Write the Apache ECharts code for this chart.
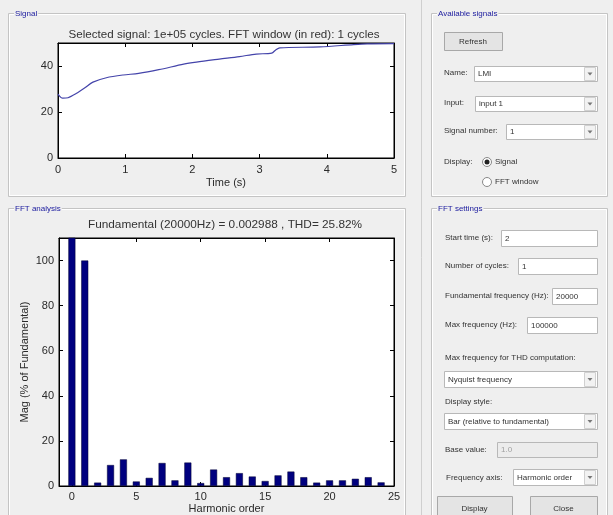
<!DOCTYPE html>
<html>
<head>
<meta charset="utf-8">
<script src="https://cdn.jsdelivr.net/npm/echarts@6/dist/echarts.min.js"></script>
<style>
html,body{margin:0;padding:0;background:#efefef;}
#chart{width:613px;height:515px;}
</style>
</head>
<body>
<div id="chart"></div>
<script>
// ---- data ----
var timeValues   = [0, 0.07, 0.15, 0.27, 0.4, 0.52, 0.72, 0.97, 1.2, 1.5, 1.87, 2.06, 2.4, 2.7, 2.95, 3.18, 3.24, 3.3, 3.9, 4.4, 4.6, 5.0];
var signalValues = [27.8, 26.0, 26.2, 28.0, 30.5, 33.0, 34.9, 36.1, 36.8, 38.4, 40.8, 41.7, 43.0, 44.1, 45.2, 45.6, 47.0, 47.9, 48.3, 49.3, 49.6, 49.7];
var harmonicOrders = [0,1,2,3,4,5,6,7,8,9,10,11,12,13,14,15,16,17,18,19,20,21,22,23,24];
var magnitudes     = [118,100,1.5,9.3,11.8,2.0,3.6,10.2,2.5,10.4,1.3,7.3,3.9,5.7,4.2,2.2,4.7,6.4,3.9,1.5,2.5,2.5,3.2,3.9,1.6];
var timeTicks = [0,1,2,3,4,5];
var signalTicks = [0,20,40];
var harmonicTicks = [0,5,10,15,20,25];
var magTicks = [0,20,40,60,80,100];

var signalTitle = 'Selected signal: 1e+05 cycles. FFT window (in red): 1 cycles';
var fftTitle = 'Fundamental (20000Hz) = 0.002988 , THD= 25.82%';

var FONT = '"Liberation Sans", Arial, sans-serif';
var chart = echarts.init(document.getElementById('chart'));

function pair(xs, ys){ return xs.map(function(x,i){return [x, ys[i]];}); }

// ---- GUI helpers (graphic) ----
var g = [];
var BG = '#efefef';
function panel(x,y,w,h,label){
  g.push({type:'rect', shape:{x:x+0.5,y:y+0.5,width:w,height:h}, style:{fill:null, stroke:'#c4c4c4', lineWidth:1}, silent:true});
  g.push({type:'rect', shape:{x:x+1.5,y:y+1.5,width:w-2,height:h-2}, style:{fill:null, stroke:'#ffffff', lineWidth:1}, silent:true});
  g.push({type:'text', x:x+6, y:y+1, style:{text:label, font:'8px '+FONT, fill:'#2020a0', backgroundColor:BG, padding:[0,1], verticalAlign:'middle'}, silent:true});
}
function label(x,y,t,col){
  g.push({type:'text', x:x, y:y, style:{text:t, font:'8px '+FONT, fill:col||'#333333', verticalAlign:'middle'}, silent:true});
}
function box(x,y,w,h,t,disabled){
  g.push({type:'rect', shape:{x:x+0.5,y:y+0.5,width:w,height:h}, style:{fill:disabled?'#ececec':'#ffffff', stroke:'#b8b8b8', lineWidth:1}, silent:true});
  if(t!==undefined) label(x+4, y+h/2+0.5, t, disabled?'#a0a0a0':'#333333');
}
function dropdown(x,y,w,h,t){
  box(x,y,w,h,t);
  g.push({type:'rect', shape:{x:x+w-12.5,y:y+1.5,width:11,height:h-2}, style:{fill:'#f2f2f2', stroke:'#d0d0d0', lineWidth:1}, silent:true});
  g.push({type:'polygon', shape:{points:[[x+w-9.5,y+h/2-1],[x+w-4.5,y+h/2-1],[x+w-7,y+h/2+2]]}, style:{fill:'#777'}, silent:true});
}
function button(x,y,w,h,t){
  g.push({type:'rect', shape:{x:x+0.5,y:y+0.5,width:w,height:h}, style:{fill:'#e4e4e4', stroke:'#a8a8a8', lineWidth:1}, silent:true});
  g.push({type:'text', x:x+w/2, y:y+h/2+0.5, style:{text:t, font:'8px '+FONT, fill:'#333', align:'center', verticalAlign:'middle'}, silent:true});
}
function radio(cx,cy,on,t){
  g.push({type:'circle', shape:{cx:cx,cy:cy,r:4.5}, style:{fill:'#fff', stroke:'#888', lineWidth:1}, silent:true});
  if(on) g.push({type:'circle', shape:{cx:cx,cy:cy,r:2.5}, style:{fill:'#222'}, silent:true});
  label(cx+8, cy, t);
}

// divider
g.push({type:'line', shape:{x1:421.5,y1:0,x2:421.5,y2:515}, style:{stroke:'#cfcfcf', lineWidth:1}, silent:true});
// left panels
panel(8,13,397,183,'Signal');
panel(8,208,397,320,'FFT analysis');
// Available signals
panel(431,13,176,183,'Available signals');
button(444,32,58,18,'Refresh');
label(444,73,'Name:'); dropdown(474,66,123,15,'LMI');
label(444,103,'Input:'); dropdown(475,96,122,15,'input 1');
label(444,131,'Signal number:'); dropdown(506,124,91,15,'1');
label(444,162,'Display:');
radio(487,162,true,'Signal');
radio(487,182,false,'FFT window');
// FFT settings
panel(431,208,176,320,'FFT settings');
label(445,238,'Start time (s):'); box(501,230,96,16,'2');
label(445,266,'Number of cycles:'); box(518,258,79,16,'1');
label(445,296,'Fundamental frequency (Hz):'); box(552,288,45,16,'20000');
label(445,325,'Max frequency (Hz):'); box(527,317,70,16,'100000');
label(445,358,'Max frequency for THD computation:');
dropdown(444,371,153,16,'Nyquist frequency');
label(445,402,'Display style:');
dropdown(444,413,153,16,'Bar (relative to fundamental)');
label(445,450,'Base value:'); box(497,442,100,15,'1.0',true);
label(446,478,'Frequency axis:'); dropdown(513,469,84,16,'Harmonic order');
button(437,496,75,24,'Display');
button(530,496,67,24,'Close');

var axisLineBlack = {show:true, onZero:false, lineStyle:{color:'#000', width:1}};
var tickIn = {show:true, inside:true, length:4, lineStyle:{color:'#000', width:1}};
var lbl = {color:'#2a2a2a', fontSize:11, fontFamily:FONT};

var option = {
  animation:false,
  backgroundColor:BG,
  textStyle:{fontFamily:FONT},
  title:[
    {text:signalTitle, left:219, top:24, textAlign:'center', textStyle:{fontSize:11.6, fontWeight:'normal', color:'#333', fontFamily:FONT}},
    {text:fftTitle, left:220, top:214, textAlign:'center', textStyle:{fontSize:11.8, fontWeight:'normal', color:'#333', fontFamily:FONT}}
  ],
  grid:[
    {left:58, top:43, width:336, height:115, show:true, backgroundColor:'#fff', borderColor:'#000', borderWidth:1},
    {left:59, top:238, width:335, height:248, show:true, backgroundColor:'#fff', borderColor:'#000', borderWidth:1}
  ],
  xAxis:[
    {type:'value', gridIndex:0, min:0, max:5, interval:1, axisLine:axisLineBlack, axisTick:tickIn, splitLine:{show:false},
     axisLabel:Object.assign({margin:6, customValues:timeTicks}, lbl),
     name:'Time (s)', nameLocation:'middle', nameGap:19, nameMoveOverlap:false, nameTextStyle:lbl},
    {type:'value', gridIndex:0, position:'top', min:0, max:5, interval:1, axisLine:axisLineBlack, axisTick:tickIn, axisLabel:{show:false}, splitLine:{show:false}},
    {type:'value', gridIndex:1, min:-1, max:25, axisLine:axisLineBlack,
     axisTick:Object.assign({customValues:harmonicTicks}, tickIn), splitLine:{show:false},
     axisLabel:Object.assign({margin:5, customValues:harmonicTicks}, lbl),
     name:'Harmonic order', nameLocation:'middle', nameGap:17, nameMoveOverlap:false, nameTextStyle:lbl},
    {type:'value', gridIndex:1, position:'top', min:-1, max:25, axisLine:axisLineBlack,
     axisTick:Object.assign({customValues:harmonicTicks}, tickIn), axisLabel:{show:false}, splitLine:{show:false}}
  ],
  yAxis:[
    {type:'value', gridIndex:0, min:0, max:50, axisLine:axisLineBlack,
     axisTick:Object.assign({customValues:signalTicks}, tickIn), splitLine:{show:false},
     axisLabel:Object.assign({margin:5, customValues:signalTicks}, lbl)},
    {type:'value', gridIndex:0, position:'right', min:0, max:50, axisLine:axisLineBlack,
     axisTick:Object.assign({customValues:signalTicks}, tickIn), axisLabel:{show:false}, splitLine:{show:false}},
    {type:'value', gridIndex:1, min:0, max:110, axisLine:axisLineBlack,
     axisTick:Object.assign({customValues:magTicks}, tickIn), splitLine:{show:false},
     axisLabel:Object.assign({margin:5, customValues:magTicks}, lbl),
     name:'Mag (% of Fundamental)', nameLocation:'middle', nameGap:29, nameMoveOverlap:false, nameRotate:90, nameTextStyle:lbl},
    {type:'value', gridIndex:1, position:'right', min:0, max:110, axisLine:axisLineBlack,
     axisTick:Object.assign({customValues:magTicks}, tickIn), axisLabel:{show:false}, splitLine:{show:false}}
  ],
  series:[
    {type:'line', xAxisIndex:0, yAxisIndex:0, data:pair(timeValues, signalValues), showSymbol:false, smooth:0.3,
     lineStyle:{color:'#4444aa', width:1.2}},
    {type:'bar', xAxisIndex:2, yAxisIndex:2, data:pair(harmonicOrders, magnitudes), barWidth:7, clip:true,
     itemStyle:{color:'#00007f', borderColor:'#000033', borderWidth:0.5}}
  ],
  graphic:g
};
chart.setOption(option);
</script>
</body>
</html>
